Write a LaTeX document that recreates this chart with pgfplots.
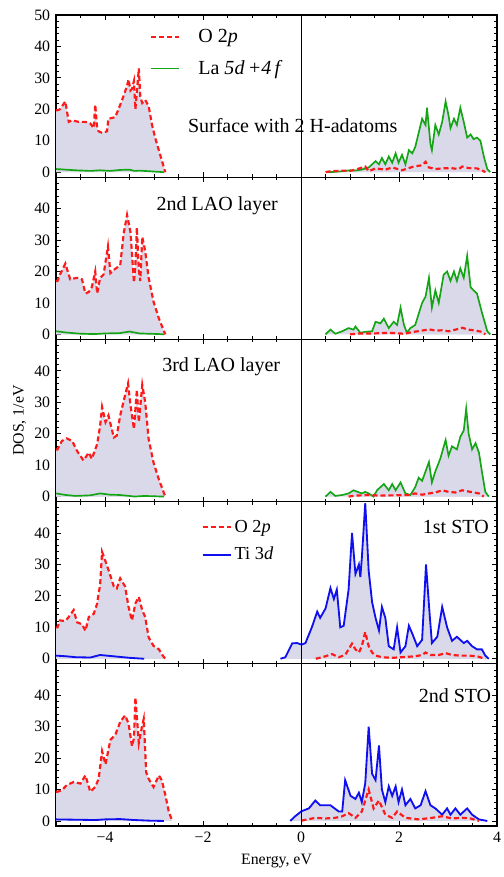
\documentclass[border=0pt]{standalone}
\usepackage{fontspec}
\setmainfont{Liberation Serif}
\usepackage{pgfplots}
\usepackage{pgfplotstable}
\pgfplotsset{compat=1.18}
\usepgfplotslibrary{groupplots}

\definecolor{dosfill}{RGB}{217,217,233}
\definecolor{lagreen}{RGB}{20,165,20}
\definecolor{tiblue}{RGB}{15,15,240}
\definecolor{o2pred}{RGB}{255,25,25}

% ---- panel 1: surface with 2 H-adatoms ----
\pgfplotstableread{
x y
-5.00 19.7
-4.97 19.7
-4.92 20
-4.81 22.5
-4.74 16
-4.67 16.5
-4.54 16
-4.40 16
-4.30 15.5
-4.23 14
-4.20 21.5
-4.16 14
-4.13 13
-4.06 12.5
-3.96 13
-3.93 17
-3.79 17.5
-3.65 23
-3.55 27.5
-3.52 29.5
-3.48 26
-3.45 26.5
-3.41 29
-3.38 20
-3.35 25.5
-3.31 33
-3.28 24
-3.24 22
-3.18 23
-3.11 21
-3.04 15
-2.97 10.6
-2.87 5.3
-2.77 0
}\aOL
\pgfplotstableread{
x y
0.50 0
0.60 0.3
0.84 0.5
1.00 0.4
1.11 0.8
1.31 1.8
1.38 0.3
1.52 1.2
1.72 0.8
1.86 1.5
2.06 0.6
2.30 1.8
2.47 2.2
2.54 3.3
2.61 1.5
2.74 1.0
2.88 1.2
3.05 1.3
3.22 1.0
3.29 1.8
3.42 1.3
3.59 1.2
3.69 0.6
3.76 0
}\aOR
\pgfplotstableread{
x y
-5.00 1.0
-4.90 0.9
-4.60 0.6
-4.30 0.4
-4.10 0.6
-3.90 0.4
-3.70 0.7
-3.50 0.8
-3.40 0.4
-3.30 0.5
-3.10 0.3
-2.90 0.1
-2.80 0
}\aML
\pgfplotstableread{
x y
0.55 0
0.70 0.1
0.84 0.3
1.00 0.6
1.11 0.5
1.24 0.8
1.38 1.5
1.52 3.5
1.59 2.5
1.65 4.5
1.72 2.5
1.79 5
1.86 3
1.93 6
1.99 3
2.06 5.5
2.13 2.5
2.20 7
2.27 6
2.33 8
2.40 12.5
2.47 17
2.54 15
2.57 20.5
2.61 14
2.64 9
2.67 7
2.74 15
2.81 12
2.88 16
2.95 22.5
3.01 18
3.05 14
3.12 17
3.18 15
3.25 20.5
3.32 16
3.39 11
3.46 12
3.52 10.5
3.59 11
3.66 10
3.73 5
3.80 1
3.86 0
}\aMR

% ---- panel 2: 2nd LAO layer ----
\pgfplotstableread{
x y
-5.00 17
-4.97 17
-4.92 19
-4.81 22.5
-4.71 17.5
-4.57 18
-4.47 17.5
-4.40 13
-4.33 13.5
-4.27 15
-4.20 20
-4.16 13
-4.10 18
-4.03 19
-3.94 28
-3.89 19.5
-3.82 20.5
-3.69 22
-3.62 32
-3.55 38
-3.48 32.5
-3.41 16.5
-3.38 22
-3.35 34
-3.31 20.5
-3.28 17
-3.24 31
-3.18 26.5
-3.11 18
-3.01 10.4
-2.90 5
-2.77 0
}\bOL
\pgfplotstableread{
x y
1.00 0
1.20 0.3
1.50 0.3
1.80 0.5
2.10 0.2
2.30 0.8
2.47 1.2
2.61 1.6
2.74 1.2
2.88 1.3
3.01 1.0
3.15 1.5
3.29 2.1
3.42 1.5
3.56 1.2
3.69 0.8
3.76 0
}\bOR
\pgfplotstableread{
x y
-5.00 1.0
-4.80 0.6
-4.50 0.2
-4.20 0.1
-4.00 0.3
-3.70 0.4
-3.50 0.9
-3.30 0.3
-3.10 0.2
-2.90 0.1
-2.80 0
}\bML
\pgfplotstableread{
x y
0.50 0
0.53 0.5
0.60 1.5
0.70 0.2
0.84 1.0
0.97 2.0
1.07 1.5
1.11 2.5
1.21 0.5
1.31 0.8
1.45 1.0
1.52 4.0
1.62 3.5
1.69 5
1.79 2
1.89 4
1.96 3
2.03 8.5
2.10 3
2.16 0.5
2.23 2
2.33 3
2.47 10
2.54 12
2.61 18
2.67 8.5
2.74 14
2.81 10
2.91 19
2.98 20
3.05 17
3.12 20
3.18 17
3.25 21
3.32 18
3.39 25
3.46 15
3.52 14
3.59 13
3.69 7
3.80 1
3.86 0
}\bMR

% ---- panel 3: 3rd LAO layer ----
\pgfplotstableread{
x y
-5.00 15
-4.97 15
-4.88 17.7
-4.78 18.5
-4.67 17.7
-4.57 14.5
-4.44 11.5
-4.33 14
-4.27 12
-4.16 16.7
-4.10 22.5
-4.06 28.5
-3.99 23.7
-3.93 25.8
-3.82 18.8
-3.76 19.4
-3.69 25.8
-3.59 32.3
-3.53 36
-3.48 29
-3.41 21.5
-3.35 34
-3.31 23.7
-3.24 35.5
-3.18 30
-3.11 18.3
-3.01 10.8
-2.90 5.4
-2.77 0
}\cOL
\pgfplotstableread{
x y
0.97 0
1.10 0.3
1.38 0.5
1.60 0.3
1.90 0.4
2.20 0.5
2.33 1.0
2.47 0.6
2.61 1.0
2.74 1.3
2.88 2.0
3.01 1.5
3.15 1.3
3.29 2.0
3.42 1.6
3.56 1.2
3.63 1.0
3.73 0
}\cOR
\pgfplotstableread{
x y
-5.00 1.0
-4.80 0.5
-4.60 0.2
-4.30 0.4
-4.10 1.0
-3.90 0.6
-3.70 0.5
-3.50 0.2
-3.40 0.0
-3.20 0.2
-3.00 0.1
-2.80 0
}\cML
\pgfplotstableread{
x y
0.50 0
0.60 1.5
0.70 0.2
0.84 0.5
0.97 1.0
1.07 2.0
1.24 1.0
1.31 1.5
1.38 1.0
1.48 0
1.55 2
1.69 4
1.79 2
1.86 4
1.93 2
2.03 4.5
2.13 1
2.23 0.5
2.33 3
2.40 6
2.47 5
2.61 11
2.67 4.5
2.74 8
2.84 12
2.95 18
3.01 13
3.08 16
3.18 15
3.25 19
3.32 21
3.37 28
3.42 20
3.49 15
3.56 17
3.63 14
3.69 8
3.76 1.5
3.83 0
}\cMR

% ---- panel 4: 1st STO ----
\pgfplotstableread{
x y
-5.00 10
-4.97 10
-4.92 12.2
-4.81 12
-4.74 13.3
-4.64 15.5
-4.57 11.6
-4.47 11
-4.40 8.9
-4.33 13.3
-4.23 14.3
-4.16 17.6
-4.13 20.8
-4.10 23.5
-4.06 34
-3.99 31
-3.93 28.3
-3.82 23
-3.76 22.4
-3.69 25.6
-3.59 23
-3.52 16.5
-3.45 12.2
-3.38 17.6
-3.31 19.7
-3.24 15.4
-3.18 13.3
-3.11 6.8
-3.01 4.1
-2.90 3
-2.84 1.4
-2.77 0
}\dOL
\pgfplotstableread{
x y
0.30 0
0.50 0.8
0.63 1.5
0.77 0.5
0.90 1.2
1.04 4.8
1.11 3
1.18 2
1.24 4
1.31 8.5
1.38 4
1.45 2
1.52 1
1.65 0.5
1.86 0.3
2.06 0.5
2.33 0.8
2.47 1.2
2.54 2
2.64 1.2
2.81 1.2
2.95 1.8
3.08 1.2
3.25 1.0
3.42 1.0
3.59 0.8
3.69 0.3
3.76 0
}\dOR
\pgfplotstableread{
x y
-5.00 1.0
-4.80 0.8
-4.60 0.5
-4.30 0.4
-4.10 1.2
-3.90 0.9
-3.70 0.6
-3.50 0.3
-3.30 0.1
-3.20 0
}\dML
\pgfplotstableread{
x y
-0.42 0
-0.32 0.5
-0.18 4.9
-0.08 5
0.01 4.5
0.09 5
0.22 10
0.33 15
0.39 13
0.50 16
0.60 22.5
0.67 19
0.73 22
0.80 10
0.87 10.5
0.97 22
1.04 40
1.11 27
1.18 30
1.21 26
1.24 32
1.31 49.5
1.38 28
1.45 18
1.52 13
1.59 9
1.65 16.5
1.72 13
1.79 4
1.89 3
1.96 10
2.03 2
2.13 4
2.20 10.5
2.27 8
2.37 4
2.47 6
2.55 30
2.62 15
2.67 5
2.78 7
2.88 16.5
2.98 10
3.08 5.7
3.18 7
3.32 5
3.39 5.7
3.49 4
3.59 3
3.69 3
3.76 1
3.83 0
}\dMR

% ---- panel 5: 2nd STO ----
\pgfplotstableread{
x y
-5.00 9.3
-4.97 9.3
-4.88 9.8
-4.78 11.4
-4.64 12.4
-4.50 11.9
-4.40 14.5
-4.30 9.3
-4.20 10.8
-4.13 13.4
-4.06 22.2
-3.99 18
-3.89 25.8
-3.79 27.4
-3.69 31.5
-3.59 33.6
-3.52 31
-3.45 23.8
-3.41 26.3
-3.38 39.3
-3.31 24.8
-3.24 30.5
-3.21 32.5
-3.16 15.5
-3.11 13.4
-3.01 10.8
-2.90 14.5
-2.84 12.9
-2.77 8.3
-2.70 3.1
-2.63 0
}\eOL
\pgfplotstableread{
x y
0.01 0.1
0.29 1
0.50 0.8
0.70 1
0.84 1.5
0.97 2.5
1.11 1
1.24 3
1.38 10
1.48 4
1.59 6.5
1.72 2
1.86 1
1.96 3
2.13 1
2.40 0.5
2.67 1
2.88 1.5
3.08 0.8
3.29 1
3.46 0.8
3.63 0
}\eOR
\pgfplotstableread{
x y
-5.00 0.5
-4.60 0.4
-4.20 0.3
-4.00 0.5
-3.70 0.6
-3.40 0.3
-3.10 0.1
-2.80 0
}\eML
\pgfplotstableread{
x y
-0.22 0
-0.12 1.5
0.01 3.1
0.16 4
0.29 6.5
0.39 5
0.60 5
0.77 3
0.84 3
0.90 13
1.01 8
1.11 7
1.18 9
1.24 6
1.31 12
1.38 30
1.45 15
1.52 13
1.59 24
1.65 10
1.72 6
1.79 11
1.86 8
1.93 11
1.99 6
2.06 10
2.13 5
2.23 7
2.33 4
2.44 5
2.54 9.5
2.64 5
2.74 4
2.88 2
2.98 4
3.05 2
3.15 4
3.25 2
3.39 4
3.49 2
3.63 0.5
3.80 0
}\eMR

\pgfplotsset{
  opline/.style={o2pred, line width=1.3pt, dash pattern=on 3pt off 1.8pt},
  laline/.style={lagreen, line width=1pt},
  tiline/.style={tiblue, line width=1.1pt},
}

% fills first, then the metal curve, then O 2p, then the E_F line
\newcommand{\dospanel}[5]{%
  \addplot[draw=none, fill=dosfill, forget plot] table {#1} \closedcycle;
  \addplot[draw=none, fill=dosfill, forget plot] table {#2} \closedcycle;
  \addplot[draw=none, fill=dosfill, forget plot] table {#3} \closedcycle;
  \addplot[draw=none, fill=dosfill, forget plot] table {#4} \closedcycle;
  \addplot[#5, forget plot] table {#3};
  \addplot[#5, forget plot] table {#4};
  \addplot[opline, forget plot] table {#1};
  \addplot[opline, forget plot] table {#2};
  \addplot[black, line width=0.5pt, forget plot] coordinates {(0,-1.6) (0,50)};
}

\begin{document}
\begin{tikzpicture}
\begin{groupplot}[
  group style={group name=G, group size=1 by 5, vertical sep=0pt,
    xticklabels at=edge bottom},
  width=264.6pt, height=97.3pt, scale only axis,
  xmin=-5, xmax=4, ymin=-1.6, ymax=50,
  xtick={-4,-2,0,2,4}, xticklabels={−4,−2,0,2,4},
  minor xtick={-5,-4.5,-3.5,-3,-2.5,-1.5,-1,-0.5,0.5,1,1.5,2.5,3,3.5},
  ytick={0,10,20,30,40}, yticklabels={0,10,20,30,40},
  minor ytick={2,4,6,8,12,14,16,18,22,24,26,28,32,34,36,38,42,44,46,48},
  tick align=inside, major tick length=3pt, minor tick length=1.8pt,
  tick style={black, line width=0.5pt},
  axis line style={black, line width=0.7pt},
  ticklabel style={font=\fontsize{9.5}{11}\selectfont},
  label style={font=\fontsize{9.5}{11}\selectfont},
  legend style={draw=none, fill=none, row sep=2pt,
    font=\fontsize{12}{14}\selectfont},
  legend cell align=left,
  legend image code/.code={\draw[#1] (0pt,0pt) -- (17pt,0pt);},
]
\nextgroupplot[ytick={0,10,20,30,40,50}, yticklabels={0,10,20,30,40,50},
  legend style={at={(0.2,0.955)}, anchor=north west, row sep=5pt},
  legend image code/.code={\draw[#1] (0pt,0pt) -- (17pt,0pt);
    \path (26pt,0pt);}]
\addlegendimage{opline}
\addlegendentry{O 2\textit{p}}
\addlegendimage{laline}
\addlegendentry{La \textit{5d\,+4\,f}}
\dospanel{\aOL}{\aOR}{\aML}{\aMR}{laline}
\node[font=\fontsize{12}{14}\selectfont] at (axis cs:-0.17,14.9) {Surface with 2 H-adatoms};

\nextgroupplot
\dospanel{\bOL}{\bOR}{\bML}{\bMR}{laline}
\node[font=\fontsize{12}{14}\selectfont] at (axis cs:-1.71,40.9) {2nd LAO layer};

\nextgroupplot[ylabel={DOS, 1/eV}, ylabel style={yshift=-2pt}]
\dospanel{\cOL}{\cOR}{\cML}{\cMR}{laline}
\node[font=\fontsize{12}{14}\selectfont] at (axis cs:-1.63,41.4) {3rd LAO layer};

\nextgroupplot[legend style={at={(0.318,0.93)}, anchor=north west,
  row sep=3.5pt, font=\fontsize{11}{13}\selectfont,
  nodes={inner xsep=1.5pt}}]
\addlegendimage{opline}
\addlegendentry{O 2\textit{p}}
\addlegendimage{tiline}
\addlegendentry{Ti 3\textit{d}}
\dospanel{\dOL}{\dOR}{\dML}{\dMR}{tiline}
\node[font=\fontsize{12}{14}\selectfont, anchor=east] at (axis cs:3.95,41.8) {1st STO};

\nextgroupplot[xlabel={Energy, eV}]
\dospanel{\eOL}{\eOR}{\eML}{\eMR}{tiline}
\node[font=\fontsize{12}{14}\selectfont, anchor=east] at (axis cs:4.0,39.8) {2nd STO};
\end{groupplot}
\pgfresetboundingbox
\path[use as bounding box] ([shift={(-33.6pt,-30.6pt)}]G c1r5.south west)
  rectangle ([shift={(3.6pt,9pt)}]G c1r1.north east);
\end{tikzpicture}
\end{document}
